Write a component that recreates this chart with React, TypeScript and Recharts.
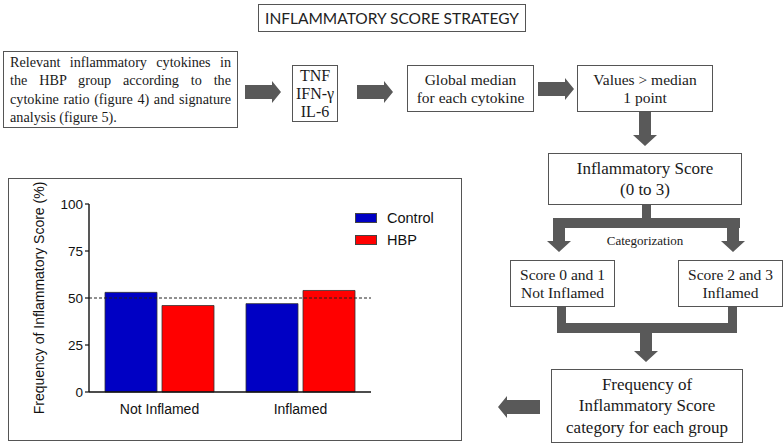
import React from 'react';
import {
  BarChart, Bar, XAxis, YAxis, ReferenceLine,
} from 'recharts';

// Frequency of inflammatory score (%) per category
const categories = ['Not Inflamed', 'Inflamed'];
const controlValues = [53, 47];
const hbpValues = [46, 54];
const yTicks = [0, 25, 50, 75, 100];

const seriesNames = ['Control', 'HBP'];
const seriesColors = ['#0000c4', '#ff0000'];

const data = categories.map((c, i) => ({
  name: c,
  Control: controlValues[i],
  HBP: hbpValues[i],
}));

const introLines = [
  'Relevant inflammatory cytokines in',
  'the HBP group according to the',
  'cytokine ratio (figure 4) and signature',
  'analysis (figure 5).',
];

const ARROW = '#595959';
const SERIF = "'Liberation Serif', 'Times New Roman', Times, Tinos, 'DejaVu Serif', 'Noto Serif', serif";
const SANS = "'Liberation Sans', Arial, Helvetica, sans-serif";

const boxStyle = (x: number, y: number, w: number, h: number, extra: React.CSSProperties = {}): React.CSSProperties => ({
  position: 'absolute',
  left: x,
  top: y,
  width: w,
  height: h,
  boxSizing: 'border-box',
  border: '1px solid #555',
  background: '#fff',
  fontFamily: SERIF,
  color: '#1a1a1a',
  display: 'flex',
  flexDirection: 'column',
  alignItems: 'center',
  justifyContent: 'center',
  textAlign: 'center',
  ...extra,
});

function ChartLegend() {
  return (
    <div style={{ position: 'absolute', left: 355, top: 207, fontFamily: SANS, fontSize: 14.5, color: '#111' }}>
      {seriesNames.map((s, i) => (
        <div key={s} style={{ display: 'flex', alignItems: 'center', height: 22 }}>
          <span style={{
            display: 'inline-block', width: 22, height: 10, background: seriesColors[i],
            border: '1px solid #444', boxSizing: 'border-box', marginRight: 10,
          }} />
          <span>{s}</span>
        </div>
      ))}
    </div>
  );
}

// horizontal arrow pointing right (or left when x1 < x0)
function hArrow(x0: number, x1: number, cy: number, shaft = 7, head = 11, headLen = 9) {
  const dir = x1 > x0 ? 1 : -1;
  const hx = x1 - dir * headLen;
  const pts = [
    [x0, cy - shaft], [hx, cy - shaft], [hx, cy - head], [x1, cy],
    [hx, cy + head], [hx, cy + shaft], [x0, cy + shaft],
  ];
  return pts.map(p => p.join(',')).join(' ');
}

function vArrow(cx: number, y0: number, y1: number, shaft = 6, head = 12, headLen = 11) {
  const hy = y1 - headLen;
  const pts = [
    [cx - shaft, y0], [cx - shaft, hy], [cx - head, hy], [cx, y1],
    [cx + head, hy], [cx + shaft, hy], [cx + shaft, y0],
  ];
  return pts.map(p => p.join(',')).join(' ');
}

export default function App() {
  return (
    <div style={{ position: 'absolute', left: 0, top: 0, width: 784, height: 444, background: '#fff', overflow: 'hidden' }}>
      {/* arrows and connectors */}
      <svg width={784} height={444} style={{ position: 'absolute', left: 0, top: 0 }}>
        <g fill={ARROW}>
          <polygon points={hArrow(245, 281, 92)} />
          <polygon points={hArrow(357, 393, 92)} />
          <polygon points={hArrow(538, 574, 89)} />
          <polygon points={vArrow(645, 111, 146)} />
          {/* split to categories */}
          <rect x={642} y={204} width={9} height={16} />
          <rect x={553} y={218} width={187} height={10} />
          <polygon points={vArrow(559, 218, 252)} />
          <polygon points={vArrow(733, 218, 252)} />
          {/* merge */}
          <rect x={557} y={306} width={9} height={27} />
          <rect x={728} y={306} width={9} height={27} />
          <rect x={557} y={323} width={180} height={10} />
          <polygon points={vArrow(646, 323, 362)} />
          <polygon points={hArrow(540, 498, 407)} />
        </g>
      </svg>

      <div style={boxStyle(258, 4, 268, 28, { fontFamily: 'Lato, "Open Sans", sans-serif', fontSize: 15.5, color: '#222' })}>
        INFLAMMATORY SCORE STRATEGY
      </div>

      <div style={boxStyle(3, 51, 235, 77, { padding: '2px 6px', fontSize: 14.2, lineHeight: '18.5px', alignItems: 'stretch' })}>
        {introLines.map((l, i) => (
          <div
            key={i}
            style={{
              textAlign: i < introLines.length - 1 ? 'justify' : 'left',
              textAlignLast: i < introLines.length - 1 ? 'justify' : 'left',
              whiteSpace: 'nowrap',
            }}
          >
            {l}
          </div>
        ))}
      </div>

      <div style={boxStyle(292, 65, 46, 57, { fontSize: 16, lineHeight: '18px' })}>
        <div>TNF</div><div>IFN-γ</div><div>IL-6</div>
      </div>

      <div style={boxStyle(407, 65, 127, 47, { fontSize: 15.5, lineHeight: '18px' })}>
        <div>Global median</div><div>for each cytokine</div>
      </div>

      <div style={boxStyle(577, 65, 136, 47, { fontSize: 15.5, lineHeight: '18px' })}>
        <div>Values &gt; median</div><div>1 point</div>
      </div>

      <div style={boxStyle(548, 153, 194, 52, { fontSize: 17, lineHeight: '21px' })}>
        <div>Inflammatory Score</div><div>(0 to 3)</div>
      </div>

      <div style={{ position: 'absolute', left: 560, top: 233, width: 170, textAlign: 'center', fontFamily: SERIF, fontSize: 13, color: '#1a1a1a' }}>
        Categorization
      </div>

      <div style={boxStyle(510, 260, 105, 47, { fontSize: 15.5, lineHeight: '18px' })}>
        <div>Score 0 and 1</div><div>Not Inflamed</div>
      </div>

      <div style={boxStyle(678, 260, 105, 47, { fontSize: 15.5, lineHeight: '18px' })}>
        <div>Score 2 and 3</div><div>Inflamed</div>
      </div>

      <div style={boxStyle(551, 369, 192, 74, { fontSize: 17, lineHeight: '21.5px' })}>
        <div>Frequency of</div><div>Inflammatory Score</div><div>category for each group</div>
      </div>

      {/* bar chart panel */}
      <div style={{ position: 'absolute', left: 8, top: 178, width: 454, height: 263, boxSizing: 'border-box', border: '1px solid #555' }} />
      <div style={{ position: 'absolute', left: 0, top: 170, width: 470, height: 270 }}>
        <BarChart
          width={470}
          height={270}
          data={data}
          margin={{ top: 34, right: 99, left: 40, bottom: 18 }}
          barCategoryGap={16}
          barGap={5}
        >
          <XAxis
            dataKey="name"
            tickLine={false}
            axisLine={{ stroke: '#111', strokeWidth: 1.4 }}
            tick={{ fontSize: 14, fill: '#111', fontFamily: SANS }}
            tickMargin={6}
            height={30}
          />
          <YAxis
            domain={[0, 100]}
            ticks={yTicks}
            width={49}
            tickSize={4}
            tickLine={{ stroke: '#111', strokeWidth: 1.2 }}
            axisLine={{ stroke: '#111', strokeWidth: 1.4 }}
            tick={{ fontSize: 13.5, fill: '#111', fontFamily: SANS }}
            label={{
              value: 'Frequency of Inflammatory Score (%)',
              angle: -90,
              position: 'left',
              offset: 0,
              dx: -1,
              style: { fontSize: 14, fill: '#111', fontFamily: SANS, textAnchor: 'middle' },
            }}
          />
          {seriesNames.map((s, i) => (
            <Bar
              key={s}
              dataKey={s}
              fill={seriesColors[i]}
              stroke="#333"
              strokeWidth={0.8}
              isAnimationActive={false}
            />
          ))}
          <ReferenceLine y={50} stroke="#222" strokeDasharray="3 2" strokeWidth={1} />
        </BarChart>
      </div>
      <ChartLegend />
    </div>
  );
}
